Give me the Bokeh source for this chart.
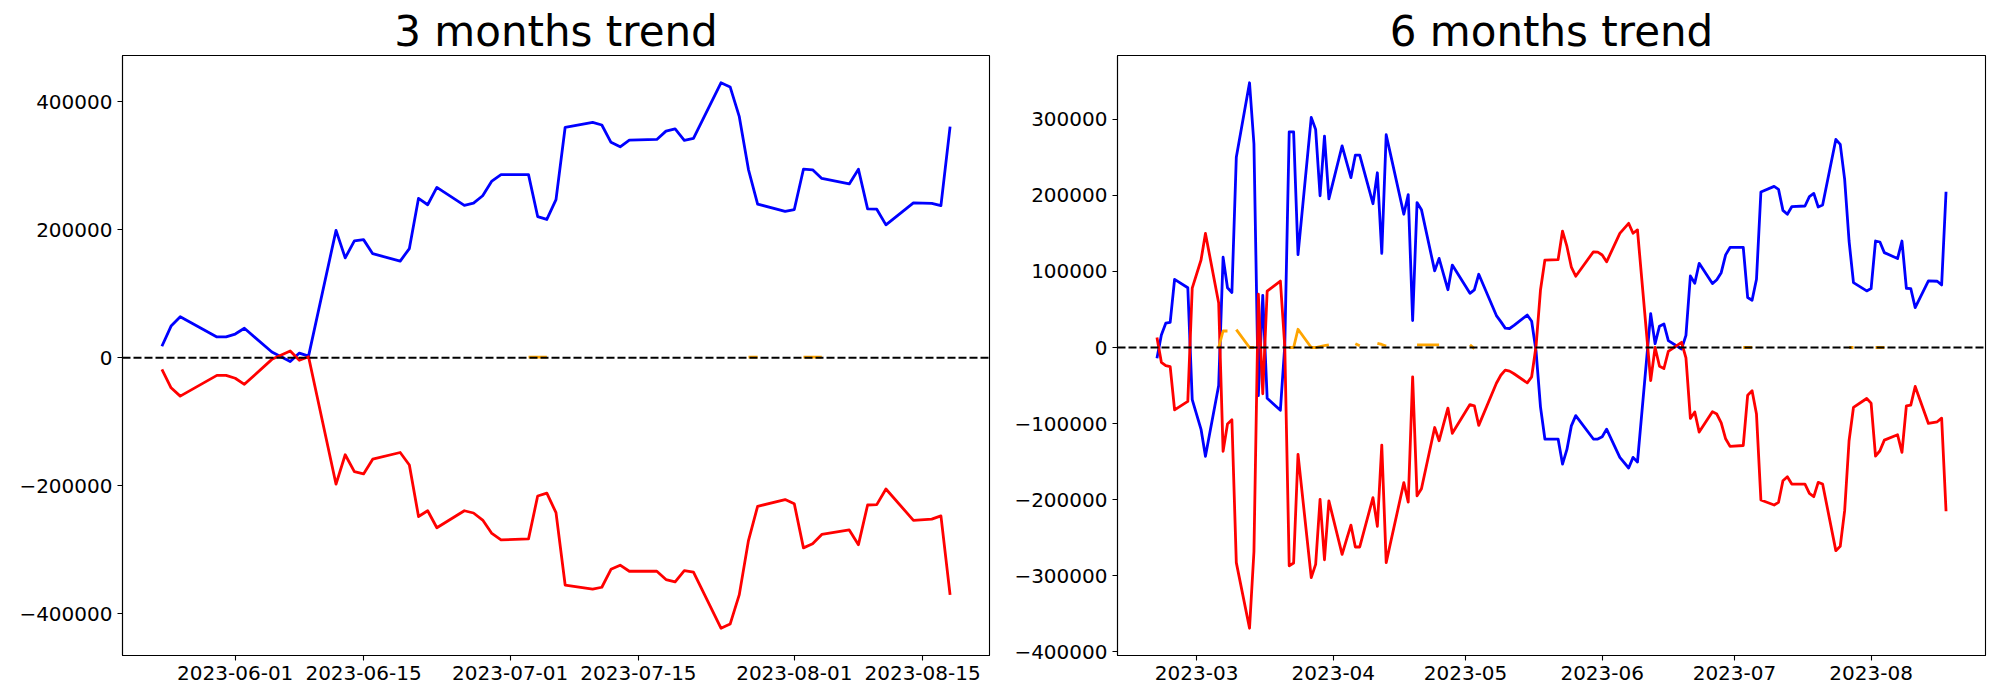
import numpy as np
import pandas as pd
from bokeh.plotting import figure
from bokeh.layouts import row
from bokeh.models import (ColumnDataSource, Span, FixedTicker, DatetimeTickFormatter,
                          CustomJSTickFormatter, Range1d)
from bokeh.embed import file_html
from bokeh.resources import INLINE

# ---------------- DATA: 3 months trend ----------------
LEFT_TITLE = "3 months trend"
LEFT_DATES = [
    "2023-05-24", "2023-05-25", "2023-05-26", "2023-05-30", "2023-05-31",
    "2023-06-01", "2023-06-02", "2023-06-05", "2023-06-07", "2023-06-08", "2023-06-09",
    "2023-06-12", "2023-06-13", "2023-06-14", "2023-06-15", "2023-06-16",
    "2023-06-19", "2023-06-20", "2023-06-21", "2023-06-22", "2023-06-23",
    "2023-06-26", "2023-06-27", "2023-06-28", "2023-06-29", "2023-06-30",
    "2023-07-03", "2023-07-04", "2023-07-05", "2023-07-06", "2023-07-07",
    "2023-07-10", "2023-07-11", "2023-07-12", "2023-07-13", "2023-07-14",
    "2023-07-17", "2023-07-18", "2023-07-19", "2023-07-20", "2023-07-21",
    "2023-07-24", "2023-07-25", "2023-07-26", "2023-07-27", "2023-07-28",
    "2023-07-31", "2023-08-01", "2023-08-02", "2023-08-03", "2023-08-04",
    "2023-08-07", "2023-08-08", "2023-08-09", "2023-08-10", "2023-08-11",
    "2023-08-14", "2023-08-16", "2023-08-17", "2023-08-18",
]
LEFT_BLUE = [
    18000, 49500, 64000, 32500, 32500,
    37000, 46000, 9000, -6000, 7300, 2600,
    199000, 156000, 182500, 184500, 162500,
    151000, 170500, 249000, 239000, 266000,
    238000, 241500, 253000, 276000, 286000,
    286000, 220500, 216000, 247000, 360000,
    367500, 363500, 336500, 329500, 340000,
    341000, 354000, 357500, 339500, 342500,
    429500, 423000, 376500, 294000, 240000,
    228500, 231500, 294500, 293500, 280000,
    271500, 294500, 232500, 232000, 207500,
    242000, 241000, 237500, 361000,
]
LEFT_RED = [
    -18000, -47000, -60000, -27500, -27500,
    -32000, -41500, -2500, 10500, -4000, 1500,
    -197500, -151500, -178000, -181500, -158500,
    -148000, -167500, -248000, -239000, -265500,
    -239000, -242500, -253500, -274500, -284500,
    -283000, -216000, -211500, -242000, -355000,
    -361500, -358500, -330500, -324000, -333500,
    -333500, -346500, -350000, -332500, -335000,
    -422500, -416000, -370000, -285500, -232000,
    -221500, -228000, -297000, -290500, -276000,
    -269000, -292000, -230000, -229500, -205000,
    -254000, -252000, -247000, -370500,
]
LEFT_ORANGE_DATES = ["2023-07-03", "2023-07-04", "2023-07-05", "2023-07-27", "2023-07-28",
                     "2023-08-02", "2023-08-03", "2023-08-04"]
LEFT_ORANGE = [1000, 1000, 1000, 1000, 1000, 1000, 1000, 1000]
LEFT_YTICKS = [-400000, -200000, 0, 200000, 400000]
LEFT_XTICKS = ["2023-06-01", "2023-06-15", "2023-07-01", "2023-07-15", "2023-08-01", "2023-08-15"]

# ---------------- DATA: 6 months trend ----------------
RIGHT_TITLE = "6 months trend"
RIGHT_DATES = [
    "2023-02-20", "2023-02-21", "2023-02-22", "2023-02-23", "2023-02-24", "2023-02-27", "2023-02-28",
    "2023-03-02", "2023-03-03", "2023-03-06", "2023-03-07", "2023-03-08", "2023-03-09", "2023-03-10",
    "2023-03-13", "2023-03-14", "2023-03-15", "2023-03-16", "2023-03-17",
    "2023-03-20", "2023-03-21", "2023-03-22", "2023-03-23", "2023-03-24",
    "2023-03-27", "2023-03-28", "2023-03-29", "2023-03-30", "2023-03-31",
    "2023-04-03", "2023-04-04", "2023-04-05", "2023-04-06", "2023-04-07",
    "2023-04-10", "2023-04-11", "2023-04-12", "2023-04-13", "2023-04-14",
    "2023-04-17", "2023-04-18", "2023-04-19", "2023-04-20", "2023-04-21",
    "2023-04-24", "2023-04-25", "2023-04-26", "2023-04-27", "2023-04-28",
    "2023-05-02", "2023-05-03", "2023-05-04", "2023-05-08", "2023-05-09", "2023-05-10",
    "2023-05-11", "2023-05-12", "2023-05-15", "2023-05-16", "2023-05-17", "2023-05-18", "2023-05-19",
    "2023-05-22", "2023-05-23", "2023-05-24", "2023-05-25", "2023-05-26", "2023-05-30", "2023-05-31",
    "2023-06-01", "2023-06-02", "2023-06-05", "2023-06-07", "2023-06-08", "2023-06-09",
    "2023-06-12", "2023-06-13", "2023-06-14", "2023-06-15", "2023-06-16",
    "2023-06-19", "2023-06-20", "2023-06-21", "2023-06-22", "2023-06-23",
    "2023-06-26", "2023-06-27", "2023-06-28", "2023-06-29", "2023-06-30",
    "2023-07-03", "2023-07-04", "2023-07-05", "2023-07-06", "2023-07-07",
    "2023-07-10", "2023-07-11", "2023-07-12", "2023-07-13", "2023-07-14",
    "2023-07-17", "2023-07-18", "2023-07-19", "2023-07-20", "2023-07-21",
    "2023-07-24", "2023-07-25", "2023-07-26", "2023-07-27", "2023-07-28",
    "2023-07-31", "2023-08-01", "2023-08-02", "2023-08-03", "2023-08-04",
    "2023-08-07", "2023-08-08", "2023-08-09", "2023-08-10", "2023-08-11",
    "2023-08-14", "2023-08-16", "2023-08-17", "2023-08-18",
]
RIGHT_BLUE = [
    -14000, 16500, 32000, 33000, 89500, 78500, -68500,
    -107500, -143000, -50000, 118700, 78600, 72400, 250000,
    348000, 267500, -63300, 68600, -66800,
    -82500, 3000, 283500, 283500, 122000,
    302500, 286500, 199500, 277800, 195500,
    265000, 244000, 223300, 252800, 252800,
    189000, 229700, 123700, 279700, 253500,
    175200, 201000, 35500, 190500, 181200,
    100700, 117200, 96500, 76000, 108400,
    71200, 75800, 96300, 42000, 34000, 25500,
    25000, 29000, 42700, 34500, -5000, -78000, -120300,
    -120300, -153200, -134000, -103000, -89500, -120300, -120300,
    -117300, -107300, -144400, -158400, -144400, -150500,
    44500, 5000, 28000, 31000, 9000,
    -2000, 16000, 94000, 84500, 110700,
    84000, 89000, 98400, 121800, 131500,
    131500, 65700, 62200, 89700, 204400,
    211800, 207900, 180300, 175100, 185100,
    186000, 198300, 202600, 184700, 187300,
    273500, 267000, 221000, 140000, 85300,
    74400, 77500, 140000, 138700, 124700,
    116900, 140000, 77900, 77500, 52500,
    87500, 87100, 82300, 204800,
]
RIGHT_RED = [
    13300, -19500, -23700, -25000, -82000, -70800, 78000,
    115000, 150000, 58500, -136500, -100500, -95000, -282800,
    -369000, -268500, 70100, -60800, 74000,
    87400, 1000, -287000, -283200, -140400,
    -302500, -285000, -199500, -279000, -201500,
    -272000, -252500, -233400, -262200, -262200,
    -197300, -235000, -128200, -282700, -256300,
    -177600, -203300, -38500, -195000, -185600,
    -105200, -122600, -101000, -79600, -112800,
    -75000, -76600, -102300, -47000, -36500, -29700,
    -31000, -34500, -46400, -38500, 2000, 75500, 115000,
    115500, 153100, 132800, 105800, 93700, 125800, 125300,
    121600, 112600, 150000, 163200, 150200, 154600,
    -43600, 0, -24700, -27600, -5000,
    6800, -13500, -93200, -84700, -111200,
    -84300, -87500, -99200, -120000, -130000,
    -128800, -62600, -56900, -87500, -200500,
    -207000, -203500, -175100, -169800, -179500,
    -179500, -191700, -196100, -177300, -179500,
    -267000, -261300, -214500, -122600, -78800,
    -67000, -73100, -142700, -135700, -121700,
    -114700, -137900, -76600, -75700, -51200,
    -99800, -97600, -92800, -215300,
]
RIGHT_ORANGE_DATES = [
    "2023-03-06", "2023-03-07", "2023-03-08", "2023-03-10", "2023-03-13", "2023-03-14",
    "2023-03-22", "2023-03-23", "2023-03-24", "2023-03-27", "2023-03-28", "2023-03-29",
    "2023-03-30", "2023-03-31", "2023-04-06", "2023-04-07", "2023-04-11", "2023-04-12",
    "2023-04-13", "2023-04-20", "2023-04-21", "2023-04-24", "2023-04-25", "2023-05-02",
    "2023-05-03", "2023-07-03", "2023-07-04", "2023-07-05", "2023-07-27", "2023-07-28",
    "2023-08-02", "2023-08-03", "2023-08-04",
]
RIGHT_ORANGE = [
    0, 21700, 21700, 23500, 0, 0,
    0, 0, 24000, 0, 0, 1200,
    2400, 3500, 5000, 2200, 5500, 4000,
    2000, 3500, 3500, 3500, 3500, 3500,
    -1500, 0, 0, 0, 0, 0,
    0, 0, 0,
]
RIGHT_YTICKS = [-400000, -300000, -200000, -100000, 0, 100000, 200000, 300000]
RIGHT_XTICKS = ["2023-03", "2023-04", "2023-05", "2023-06", "2023-07", "2023-08"]

FONT = "DejaVu Sans"


def to_ms(strings):
    return np.array([pd.Timestamp(s).timestamp() * 1000.0 for s in strings])


def xticks_full(labels):
    return [s if len(s) == 10 else s + "-01" for s in labels]


def make_fig(title, dates, blue, red, o_dates, o_vals, yticks, xticks, xfmt,
             frame_w, b_left, b_right):
    x = to_ms(dates)
    blue = np.array(blue, dtype=float)
    red = np.array(red, dtype=float)
    orange = pd.Series(np.nan, index=x)
    for d, v in zip(to_ms(o_dates), o_vals):
        orange.loc[d] = v
    orange = orange.values

    allv = np.concatenate([blue, red, orange[~np.isnan(orange)]])
    ymin, ymax = allv.min(), allv.max()
    ypad = 0.05 * (ymax - ymin)
    xpad = 0.05 * (x.max() - x.min())

    p = figure(x_axis_type="datetime", frame_width=frame_w, frame_height=600,
               x_range=Range1d(x.min() - xpad, x.max() + xpad),
               y_range=Range1d(ymin - ypad, ymax + ypad),
               output_backend="svg", toolbar_location=None,
               min_border_left=b_left, min_border_right=b_right,
               min_border_top=55, min_border_bottom=37, title=title)

    src = ColumnDataSource(dict(x=x, blue=blue, red=red, orange=orange))
    lw = 2.8
    p.line("x", "blue", source=src, line_color="#0000ff", line_width=lw, line_join="round")
    p.line("x", "red", source=src, line_color="#ff0000", line_width=lw, line_join="round")
    p.line("x", "orange", source=src, line_color="#ffa500", line_width=lw, line_join="round")

    p.add_layout(Span(location=0, dimension="width", line_color="black",
                      line_width=2.1, line_dash="8 3"))

    p.title.text_font = FONT
    p.title.text_font_size = "42px"
    p.title.text_font_style = "normal"
    p.title.text_color = "black"
    p.title.align = "center"
    p.title.standoff = 0

    p.grid.visible = False
    p.outline_line_color = "black"
    p.outline_line_width = 1.1
    p.outline_line_alpha = 1.0
    p.background_fill_color = "white"
    p.border_fill_color = "white"

    p.xaxis.ticker = FixedTicker(ticks=list(to_ms(xticks_full(xticks))))
    p.xaxis.formatter = DatetimeTickFormatter(
        microseconds=xfmt, milliseconds=xfmt, seconds=xfmt, minsec=xfmt, minutes=xfmt,
        hourmin=xfmt, hours=xfmt, days=xfmt, months=xfmt, years=xfmt)
    p.yaxis.ticker = FixedTicker(ticks=yticks)
    p.yaxis.formatter = CustomJSTickFormatter(
        code="return (tick < 0 ? '\u2212' : '') + Math.abs(Math.round(tick)).toString();")

    for ax in (p.xaxis, p.yaxis):
        ax.major_label_text_font = FONT
        ax.major_label_text_font_size = "20px"
        ax.major_label_text_color = "black"
        ax.major_tick_out = 5
        ax.major_tick_in = 0
        ax.minor_tick_out = 0
        ax.minor_tick_in = 0
        ax.major_tick_line_width = 1.1
        ax.major_tick_line_color = "black"
        ax.axis_line_color = "black"
        ax.axis_line_width = 1.1
        ax.major_label_standoff = 5
    return p


p1 = make_fig(LEFT_TITLE, LEFT_DATES, LEFT_BLUE, LEFT_RED, LEFT_ORANGE_DATES, LEFT_ORANGE,
              LEFT_YTICKS, LEFT_XTICKS, "%Y-%m-%d", 867, 122, 20)
p2 = make_fig(RIGHT_TITLE, RIGHT_DATES, RIGHT_BLUE, RIGHT_RED, RIGHT_ORANGE_DATES, RIGHT_ORANGE,
              RIGHT_YTICKS, RIGHT_XTICKS, "%Y-%m", 868, 108, 5)

layout = row(p1, p2, spacing=0)
open("out.html", "w").write(file_html(layout, INLINE))
